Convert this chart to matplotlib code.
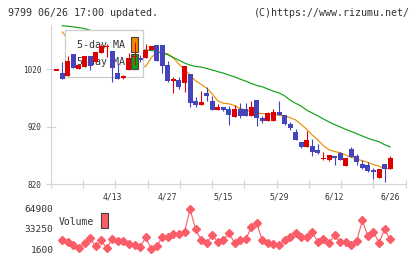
import numpy as np
import matplotlib
matplotlib.use('Agg')
import matplotlib.pyplot as plt
from matplotlib.patches import Rectangle

plt.rcParams['font.family'] = 'DejaVu Sans Mono'

# trading days shown (2020)
dates = ['3/30', '3/31',
         '4/1', '4/2', '4/3', '4/6', '4/7', '4/8', '4/9', '4/10', '4/13', '4/14',
         '4/15', '4/16', '4/17', '4/20', '4/21', '4/22', '4/23', '4/24', '4/27', '4/28',
         '4/30', '5/1', '5/7', '5/8', '5/11', '5/12', '5/13', '5/14', '5/15', '5/18',
         '5/19', '5/20', '5/21', '5/22', '5/25', '5/26', '5/27', '5/28', '5/29', '6/1',
         '6/2', '6/3', '6/4', '6/5', '6/8', '6/9', '6/10', '6/11', '6/12', '6/15',
         '6/16', '6/17', '6/18', '6/19', '6/22', '6/23', '6/24', '6/25', '6/26']

opens = [1018, 1013, 1009, 1047, 1020, 1024, 1043, 1033, 1048, 1059,
         1052, 1014, 1005, 1019, 1041, 1040, 1039, 1054, 1062, 1062,
         1027, 1000, 1001, 997, 1012, 965, 958, 979, 965, 950,
         955, 951, 937, 951, 951, 939, 966, 935, 931, 931,
         945, 940, 925, 911, 894, 885, 886, 879, 864, 862,
         869, 875, 852, 881, 869, 856, 853, 845, 831, 855,
         847]
highs = [1018, 1032, 1043, 1047, 1028, 1043, 1043, 1050, 1065, 1065,
         1052, 1030, 1010, 1048, 1068, 1045, 1065, 1061, 1062, 1062,
         1035, 1007, 1007, 1026, 1012, 972, 982, 989, 973, 960,
         955, 956, 958, 961, 962, 965, 966, 939, 946, 951,
         965, 940, 928, 917, 894, 913, 898, 890, 876, 871,
         869, 876, 866, 885, 872, 863, 858, 849, 846, 855,
         869]
lows = [1018, 1003, 1009, 1022, 1020, 1024, 1019, 1033, 1048, 1042,
        998, 1003, 1003, 1019, 1027, 1033, 1039, 1054, 1035, 1014,
        998, 979, 985, 981, 954, 955, 958, 965, 950, 950,
        947, 923, 937, 936, 939, 939, 922, 927, 931, 931,
        940, 923, 915, 897, 883, 885, 869, 872, 863, 860,
        853, 863, 852, 868, 853, 846, 842, 829, 831, 824,
        847]
closes = [1018, 1003, 1035, 1022, 1027, 1043, 1025, 1050, 1061, 1060,
          1022, 1004, 1008, 1039, 1043, 1036, 1054, 1061, 1035, 1026,
          1000, 1003, 990, 1026, 962, 958, 964, 974, 950, 955,
          949, 941, 951, 939, 939, 954, 935, 931, 944, 945,
          941, 925, 918, 897, 885, 897, 876, 875, 866, 871,
          865, 863, 866, 868, 858, 849, 843, 842, 846, 847,
          866]

nan = np.nan
ma5 = [nan, 1085, 1073, 1062, 1050, 1040, 1032, 1030, 1032, 1036,
       1038, 1035, 1030, 1026, 1024, 1024, 1025, 1040, 1050, 1049,
       1047, 1040, 1029, 1020, 1010, 1000, 994, 987, 977, 965,
       961, 960, 957, 952, 949, 947, 944, 943, 943, 941.6,
       940, 939, 936, 932, 924, 915.5, 905.6, 897, 887, 880,
       877, 875, 871, 867, 864, 861, 858, 854.5, 851.5, 847.5,
       847]
ma25 = [nan, 1096, 1095, 1094, 1092.5, 1091, 1088, 1085, 1082, 1078,
        1075, 1071, 1067, 1063, 1060, 1056, 1053.6, 1053, 1051, 1048,
        1045.4, 1040.5, 1036, 1031, 1027.5, 1025, 1024, 1021.4, 1019, 1016,
        1013.5, 1010, 1007, 1003, 999.6, 995.6, 992, 989.7, 985.7, 982,
        979, 974, 966.5, 961, 956, 949, 944, 939, 933.6, 928.5,
        924, 920, 915.5, 912, 908, 904, 900, 897, 894, 889,
        885]

vol_dates = dates[1:]
volume = [15300, 12700, 7400, 3700, 11100, 19000, 5800, 15300, 2650, 17950,
          13700, 13700, 9500, 7400, 4200, 20100, 1600, 5800, 20600, 20100,
          25900, 25900, 29000, 64400, 32700, 15300, 11100, 23200, 12700, 15300,
          26900, 11100, 15300, 16900, 35900, 42200, 15300, 11100, 9000, 7400,
          15300, 20600, 27400, 20100, 20100, 28000, 12200, 17950, 10600, 23200,
          12200, 13200, 7400, 14800, 47000, 21600, 29000, 11100, 32700, 16900]

label_dates = ['4/13', '4/27', '5/15', '5/29', '6/12', '6/26']
price_ticks = [820, 920, 1020]
vol_ticks = [1600, 33250, 64900]

W, H = 420, 259
UP, DOWN = '#dd0000', '#4444bb'
C5, C25 = '#f08c00', '#14a014'
VOLC = '#fa5c68'
AXC = '#d4d4d4'
TXT = '#333333'
MAIN = (51, 25, 405.7, 184.3)


def px_box(x0, y0, x1, y1):
    return [x0 / W, 1 - y1 / H, (x1 - x0) / W, (y1 - y0) / H]


def to_ax(px, py, box=MAIN):
    x0, y0, x1, y1 = box
    return (px - x0) / (x1 - x0), (y1 - py) / (y1 - y0)


fig = plt.figure(figsize=(W / 100, H / 100), dpi=100)
ax = fig.add_axes(px_box(*MAIN))
axv = fig.add_axes(px_box(51, 204, 405.7, 254))

pos = np.arange(len(dates))
o, h, l, c = map(np.array, (opens, highs, lows, closes))
colors = np.where(c >= o, UP, DOWN)
body_lo = np.minimum(o, c)
body_h = np.maximum(np.abs(c - o), 2.0)

# candles (drawn above the legend box)
ax.vlines(pos, l, h, colors=colors, lw=0.8, zorder=5)
ax.bar(pos, body_h, bottom=body_lo, width=0.9, color=colors, linewidth=0, zorder=6)

# moving averages
ax.plot(pos, ma5, color=C5, lw=0.85, zorder=2)
ax.plot(pos, ma25, color=C25, lw=0.85, zorder=2)

# legend box
lx, ly = to_ax(65, 77.3)
lx1, ly1 = to_ax(143.3, 30)
ax.add_patch(Rectangle((lx, ly), lx1 - lx, ly1 - ly, transform=ax.transAxes,
                       facecolor='white', edgecolor='#cccccc', lw=0.9, zorder=3))
for name, col, ytxt, ytop, ybot in [('5-day MA', C5, 45.5, 36.7, 52.3),
                                    ('25-day MA', C25, 62.0, 54.0, 69.3)]:
    tx, ty = to_ax(125, ytxt)
    ax.text(tx, ty, name, transform=ax.transAxes, ha='right', va='center',
            fontsize=7.2, color=TXT, zorder=4)
    sx, sy = to_ax(131, ybot)
    sx1, sy1 = to_ax(137.7, ytop)
    ax.add_patch(Rectangle((sx, sy), sx1 - sx, sy1 - sy, transform=ax.transAxes,
                           facecolor=col, edgecolor='#444444', lw=0.8, zorder=4))

ax.set_xlim(-1.03, 62.8)
ax.set_ylim(820, 1097.2)
for s in ['top', 'right']:
    ax.spines[s].set_visible(False)
for s in ['left', 'bottom']:
    ax.spines[s].set_color(AXC)
    ax.spines[s].set_linewidth(0.8)

ax.set_yticks(price_ticks)
ax.tick_params(axis='y', direction='inout', length=6.5, width=0.8, color=AXC,
               labelsize=5.5, labelcolor=TXT, pad=3.5)
ax.set_xticks([dates.index(d) for d in label_dates])
ax.set_xticklabels(label_dates)
ax.tick_params(axis='x', which='major', length=0, labelsize=5.8, labelcolor=TXT, pad=6)
ax.set_xticks(np.linspace(-1.03, 62.8, 12), minor=True)
ax.tick_params(axis='x', which='minor', direction='inout', length=6.2, width=0.8, color=AXC)

# volume panel
vpos = [dates.index(d) for d in vol_dates]
axv.plot(vpos, volume, color=VOLC, lw=0.8, marker='D', ms=3.8, mfc=VOLC, mec=VOLC)
axv.set_xlim(-1.03, 62.8)
axv.set_ylim(-6312, 72812)
axv.set_xticks([])
axv.set_yticks(vol_ticks)
axv.tick_params(axis='y', length=0, labelsize=6.8, labelcolor=TXT, pad=-1.7)
for s in axv.spines.values():
    s.set_visible(False)
axv.patch.set_alpha(0)

fig.text(58.3 / W, 1 - 222 / H, 'Volume', fontsize=7, va='center', ha='left', color=TXT)
fig.add_artist(Rectangle((101 / W, 1 - 228.3 / H), 6.7 / W, 15 / H, transform=fig.transFigure,
                         facecolor=VOLC, edgecolor='#444444', lw=0.8))

fig.text(8 / W, 1 - 12.5 / H, '9799 06/26 17:00 updated.', fontsize=7.2,
         va='center', ha='left', color=TXT)
fig.text(410 / W, 1 - 12.5 / H, '(C)https://www.rizumu.net/', fontsize=7.2,
         va='center', ha='right', color=TXT)

fig.savefig('out.png', dpi=100)
